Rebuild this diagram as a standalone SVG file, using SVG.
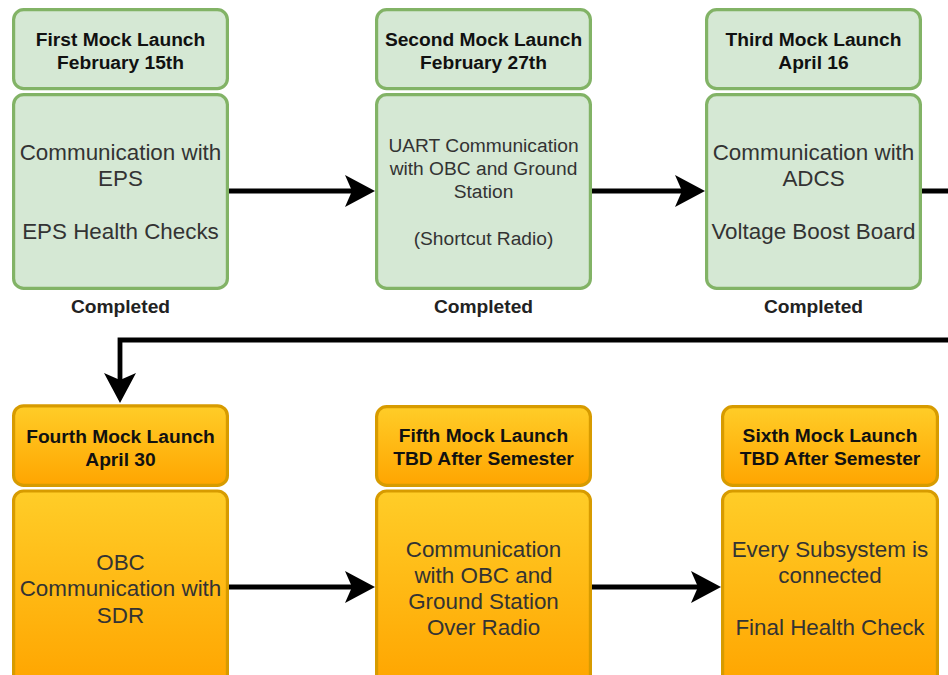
<svg xmlns="http://www.w3.org/2000/svg" width="948" height="675" viewBox="0 0 948 675">
  <defs>
    <linearGradient id="orangeFill" x1="0" y1="0" x2="0" y2="1">
      <stop offset="0" stop-color="#ffcd28"/>
      <stop offset="1" stop-color="#ffa500"/>
    </linearGradient>
    <marker id="arrowHead" markerUnits="userSpaceOnUse" markerWidth="30" markerHeight="32" viewBox="0 0 30 32" refX="7" refY="16" orient="auto">
      <path d="M30,16 L0,0 L7,16 L0,32 Z" fill="#000"/>
    </marker>
  </defs>
  <style>
    .done { fill: #d5e8d4; stroke: #82b366; stroke-width: 3.2; }
    .todo { fill: url(#orangeFill); stroke: #d79b00; stroke-width: 3.2; }
    .head { font-family: "Liberation Sans", Arial, sans-serif; font-size: 19.2px; font-weight: bold; fill: #111; text-anchor: middle; }
    .body { font-family: "Liberation Sans", Arial, sans-serif; font-size: 22.4px; fill: #333; text-anchor: middle; }
    .small { font-size: 19.2px; }
    .status { font-family: "Liberation Sans", Arial, sans-serif; font-size: 19.2px; font-weight: bold; fill: #222; text-anchor: middle; }
    .link { fill: none; stroke: #000; stroke-width: 4.8; marker-end: url(#arrowHead); }
  </style>
  <rect width="948" height="675" fill="#fff"/>

  <g id="connectors">
    <path class="link" d="M229,191 H352"/>
    <path class="link" d="M592,191 H682"/>
    <path class="link" d="M922,191 H962 V340 H120 V380"/>
    <path class="link" d="M229,587 H352"/>
    <path class="link" d="M592,587 H698"/>
  </g>

  <g id="launch1">
    <rect class="done" x="13.6" y="9.6" width="213.8" height="79" rx="10"/>
    <rect class="done" x="13.6" y="94.6" width="213.8" height="193.8" rx="10"/>
    <text class="head" x="120.5" y="46">First Mock Launch</text>
    <text class="head" x="120.5" y="69">February 15th</text>
    <text class="body" x="120.5" y="160">Communication with</text>
    <text class="body" x="120.5" y="186">EPS</text>
    <text class="body" x="120.5" y="239">EPS Health Checks</text>
    <text class="status" x="120.5" y="313">Completed</text>
  </g>

  <g id="launch2">
    <rect class="done" x="376.6" y="9.6" width="213.8" height="79" rx="10"/>
    <rect class="done" x="376.6" y="94.6" width="213.8" height="193.8" rx="10"/>
    <text class="head" x="483.5" y="46">Second Mock Launch</text>
    <text class="head" x="483.5" y="69">February 27th</text>
    <text class="body small" x="483.5" y="152">UART Communication</text>
    <text class="body small" x="483.5" y="175">with OBC and Ground</text>
    <text class="body small" x="483.5" y="198">Station</text>
    <text class="body small" x="483.5" y="245">(Shortcut Radio)</text>
    <text class="status" x="483.5" y="313">Completed</text>
  </g>

  <g id="launch3">
    <rect class="done" x="706.6" y="9.6" width="213.8" height="79" rx="10"/>
    <rect class="done" x="706.6" y="94.6" width="213.8" height="193.8" rx="10"/>
    <text class="head" x="813.5" y="46">Third Mock Launch</text>
    <text class="head" x="813.5" y="69">April 16</text>
    <text class="body" x="813.5" y="160">Communication with</text>
    <text class="body" x="813.5" y="186">ADCS</text>
    <text class="body" x="813.5" y="239">Voltage Boost Board</text>
    <text class="status" x="813.5" y="313">Completed</text>
  </g>

  <g id="launch4">
    <rect class="todo" x="13.6" y="405.8" width="213.8" height="79.6" rx="10"/>
    <rect class="todo" x="13.6" y="491" width="213.8" height="194" rx="10"/>
    <text class="head" x="120.5" y="443">Fourth Mock Launch</text>
    <text class="head" x="120.5" y="466">April 30</text>
    <text class="body" x="120.5" y="570">OBC</text>
    <text class="body" x="120.5" y="596">Communication with</text>
    <text class="body" x="120.5" y="623">SDR</text>
  </g>

  <g id="launch5">
    <rect class="todo" x="376.6" y="406.6" width="213.8" height="78.8" rx="10"/>
    <rect class="todo" x="376.6" y="491" width="213.8" height="194" rx="10"/>
    <text class="head" x="483.5" y="442">Fifth Mock Launch</text>
    <text class="head" x="483.5" y="465">TBD After Semester</text>
    <text class="body" x="483.5" y="557">Communication</text>
    <text class="body" x="483.5" y="583">with OBC and</text>
    <text class="body" x="483.5" y="609">Ground Station</text>
    <text class="body" x="483.5" y="635">Over Radio</text>
  </g>

  <g id="launch6">
    <rect class="todo" x="722.6" y="406.6" width="214.8" height="78.8" rx="10"/>
    <rect class="todo" x="722.6" y="491" width="214.8" height="194" rx="10"/>
    <text class="head" x="830" y="442">Sixth Mock Launch</text>
    <text class="head" x="830" y="465">TBD After Semester</text>
    <text class="body" x="830" y="557">Every Subsystem is</text>
    <text class="body" x="830" y="583">connected</text>
    <text class="body" x="830" y="635">Final Health Check</text>
  </g>
</svg>
